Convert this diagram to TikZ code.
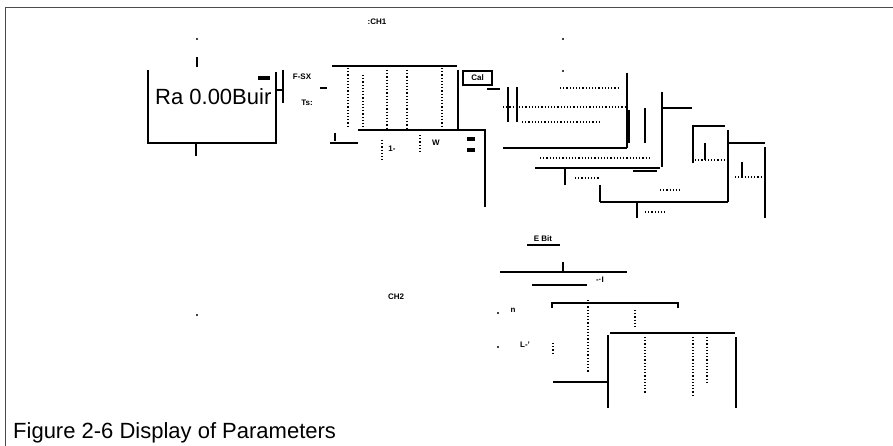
\documentclass[tikz,border=0pt]{standalone}
\usepackage{fontspec}
\setmainfont{Liberation Sans}
\begin{document}
\begin{tikzpicture}[x=1pt,y=-1pt,
  ln/.style={line width=1.3pt},
  thk/.style={line width=2.6pt},
  dt/.style={line width=1.2pt, dotted},
  lbl/.style={font=\fontsize{8}{9}\selectfont\bfseries, inner sep=0},
  dotmark/.style={circle, fill, inner sep=0, minimum size=2.2pt}]
\useasboundingbox (0,0) rectangle (893,446);
% frame
\draw[line width=1.5pt, black!70] (5.5,446) -- (5.5,7.3) -- (893,7.3);
% caption
\node[anchor=base west, inner sep=0, font=\fontsize{22}{26}\selectfont] (cap) at (13,438) {Figure 2-6 Display of Parameters};

% ---- Ra box ----
\draw[ln] (148,70) -- (148,143) -- (276,143) -- (276,72);
\node[anchor=base west, inner sep=0, font=\fontsize{22}{26}\selectfont] (ra) at (155,105) {Ra 0.00Buir};
\node[dotmark] (d1) at (197,39) {};
\draw[ln] (197,57) -- (197,67);
\draw[ln] (196,143) -- (196,156);
\fill (258,76) rectangle (270,80);
\draw[ln] (277,90) -- (283,90);
\draw[ln] (283,70) -- (283,103);
\node[lbl] (fsx) at (302,77) {F-SX};
\node[lbl] (ts) at (307,103) {Ts:};
\draw[ln] (320,88) -- (327,88);

% ---- table 1 ----
\node[lbl] (ch1) at (377,22) {:CH1};
\draw[ln] (332,66) -- (457,66);
\draw[ln] (458,70) -- (458,130);
\draw[ln] (358,130) -- (485,130) -- (485,207);
\draw[ln] (330,143) -- (358,143);
\draw[ln] (335,133) -- (335,141);
\draw[dt] (348,68) -- (348,128);
\draw[dt] (363,75) -- (363,128);
\draw[dt] (387,70) -- (387,128);
\draw[dt] (407,70) -- (407,128);
\draw[dt] (442,68) -- (442,128);
\draw[dt] (382,140) -- (382,160);
\node[lbl] (t1) at (392,149) {1-};
\draw[dt] (420,135) -- (420,152);
\node[lbl] (t2) at (436,143) {W};
\fill (467,137) rectangle (475,141);
\fill (467,148) rectangle (475,152);

% ---- box 2 ----
\draw[ln] (463,71) rectangle (492,85);
\node[lbl] (cal) at (477.5,78) {Cal};
\draw[ln] (487,89) -- (500,89);
\draw[ln] (508,87) -- (508,122);
\draw[ln] (517,87) -- (517,122);
\draw[dt] (503,107) -- (625,107);
\draw[dt] (560,88) -- (620,88);
\draw[dt] (522,122) -- (600,122);
\draw[ln] (627,73) -- (627,148);
\draw[thk] (629,110) -- (629,143);
\draw[ln] (503,148) -- (627,148);
\draw[ln] (645,108) -- (645,143);
\node[dotmark] (d2) at (563,39) {};
\node[dotmark] (d3) at (563,71) {};

% ---- box 3 ----
\draw[ln] (662,92) -- (662,167);
\draw[ln] (535,168) -- (660,168);
\draw[ln] (662,108) -- (692,108);
\draw[ln] (565,168) -- (565,185);
\draw[thk] (633,171) -- (657,171);
\draw[dt] (540,158) -- (650,158);
\draw[dt] (575,178) -- (600,178);

% ---- box 4 ----
\draw[thk] (693,126) -- (725,126);
\draw[ln] (693,125) -- (693,163);
\draw[ln] (728,130) -- (728,202);
\draw[ln] (600,202) -- (728,202);
\draw[ln] (600,185) -- (600,202);
\draw[ln] (637,202) -- (637,218);
\draw[ln] (705,143) -- (705,160);
\draw[dt] (695,160) -- (725,160);
\draw[dt] (660,190) -- (680,190);
\draw[dt] (645,212) -- (665,212);

% ---- box 5 ----
\draw[ln] (728,143) -- (765,143);
\draw[ln] (765,147) -- (765,218);
\draw[ln] (742,162) -- (742,177);
\draw[dt] (735,177) -- (762,177);

% ---- lower diagram ----
\node[lbl] (ch2) at (396,297) {CH2};
\node[dotmark] (d4) at (197,315) {};
\node[lbl] (ebit) at (543,239) {E Bit};
\draw[ln] (527,245) -- (560,245);
\draw[ln] (500,272) -- (627,272);
\draw[ln] (563,262) -- (563,272);
\draw[ln] (532,285) -- (587,285);
\node[lbl] (t3) at (600,280) {-·I};
\draw[ln] (552,308) -- (552,303) -- (678,303) -- (678,308);
\draw[ln] (610,333) -- (735,333);
\draw[ln] (736,337) -- (736,408);
\draw[ln] (608,335) -- (608,408);
\draw[ln] (553,382) -- (607,382);
\draw[dt] (588,300) -- (588,373);
\draw[dt] (635,310) -- (635,327);
\draw[dt] (645,337) -- (645,393);
\draw[dt] (693,337) -- (693,397);
\draw[dt] (707,337) -- (707,383);
\draw[dt] (553,343) -- (553,355);
\node[dotmark] (d5) at (498,313) {};
\node[lbl] (t4) at (513,310) {n};
\node[dotmark] (d6) at (498,347) {};
\node[lbl] (t5) at (525,345) {L-'};
\end{tikzpicture}
\end{document}
